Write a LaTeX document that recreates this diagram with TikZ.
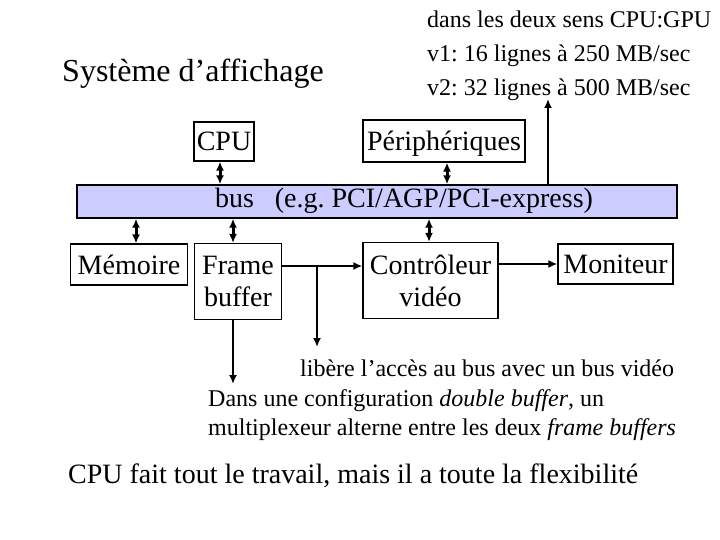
\documentclass[tikz,border=0pt]{standalone}
\usepackage{fontspec}
\setmainfont{Liberation Serif}
\usetikzlibrary{calc,arrows.meta}
\definecolor{busbleu}{HTML}{CCCCFF}
\newcommand{\taille}[1]{\fontsize{#1}{#1}\selectfont}
\frenchspacing
\tikzset{
    bloc/.style={draw, line width=1.2pt, inner sep=0pt, align=center,
        font=\taille{28}, text depth=0pt},
    lien/.style={->, line width=2pt},
    duo/.style={<->, line width=3pt},
    note/.style={anchor=west, inner sep=0pt, align=left, font=\taille{24}}
}
\begin{document}
\begin{tikzpicture}[x=1pt, y=-1pt, >={Latex[length=9pt,width=8pt]}]
        \useasboundingbox (0,0) rectangle (720,540);

        % Titre
        \node[font=\taille{32}, inner sep=0pt] (titre) at (193,74) {Système d’affichage};
        \node[note, anchor=north west, font=\fontsize{24}{34}\selectfont] (debit) at (427,11)
            {dans les deux sens CPU:GPU\\v1: 16 lignes à 250 MB/sec\\v2: 32 lignes à 500 MB/sec};

        % Boites du haut
        \node[bloc, minimum width=60, minimum height=39] (cpu) at (224,141.5) {CPU};
        \node[bloc, minimum width=162, minimum height=42] (periph) at (444,141) {Périphériques};

        % Bus
        \node[draw, line width=1.4pt, fill=busbleu, minimum width=600, minimum height=33,
            inner sep=0pt] (bus) at (377,201.5) {};
        \node[font=\taille{28}, inner sep=0pt] (nombus) at (404,201) {bus\ \ \ (e.g. PCI/AGP/PCI-express)};

        % Boites du bas
        \node[bloc, minimum width=117, minimum height=41] (memoire) at (129,264.5) {Mémoire};
        \node[bloc, minimum width=87, minimum height=76, font=\fontsize{28}{32}\selectfont]
            (frame) at (238,281.5) {Frame\\buffer};
        \node[bloc, minimum width=135, minimum height=76, font=\fontsize{28}{32}\selectfont]
            (ctrl) at (430.5,280.5) {Contrôleur\\vidéo};
        \node[bloc, minimum width=115, minimum height=40] (moniteur) at (615.5,264) {Moniteur};

        % Liaisons avec le bus
        \draw[duo] ([xshift=-4pt]cpu.south) -- ([xshift=-4pt]cpu.south |- bus.north);
        \draw[duo] ([xshift=3pt]periph.south) -- ([xshift=3pt]periph.south |- bus.north);
        \draw[duo] ([xshift=7pt]memoire.north) -- ([xshift=7pt]memoire.north |- bus.south);
        \draw[duo] ([xshift=-5pt]frame.north) -- ([xshift=-5pt]frame.north |- bus.south);
        \draw[duo] ([xshift=-1.5pt]ctrl.north) -- ([xshift=-1.5pt]ctrl.north |- bus.south);
        \coordinate (haut) at (548,99);
        \draw[lien] (haut |- bus.north) -- (haut);

        % Chemin video
        \coordinate (voie) at (317,266);
        \coordinate (libre) at (317,347);
        \coordinate (bas) at (233,384);
        \draw[lien] (frame.east |- voie) -- (ctrl.west |- voie);
        \draw[lien] (voie) -- (libre);
        \draw[lien] (ctrl.east |- moniteur) -- (moniteur.west);
        \draw[lien] (frame.south -| bas) -- (bas);

        % Notes
        \node[note] (libere) at (300,368) {libère l’accès au bus avec un bus vidéo};
        \node[note, anchor=north west, font=\fontsize{24}{29}\selectfont] (double) at (208,389)
            {Dans une configuration \textit{double buffer}, un\\multiplexeur alterne entre les deux \textit{frame buffers}};
        \node[note, font=\taille{28}] (flexi) at (68,476) {CPU fait tout le travail, mais il a toute la flexibilité};
    \end{tikzpicture}
\end{document}
